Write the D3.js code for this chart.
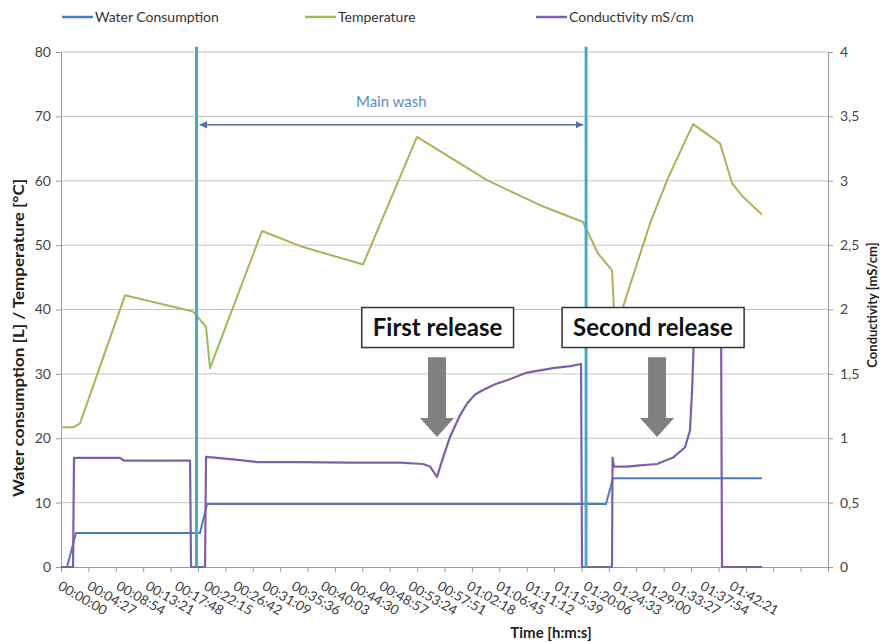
<!DOCTYPE html>
<html>
<head>
<meta charset="utf-8">
<script src="https://cdn.jsdelivr.net/npm/d3@7"></script>
<style>
  html, body { margin: 0; padding: 0; background: #fff; }
  svg { display: block; font-family: Lato, "Open Sans", sans-serif; }
</style>
</head>
<body>
<svg id="chart" width="880" height="642"></svg>
<script>
// Wash programme log: [elapsed seconds, value]
const waterConsumption = [
  [0, 0], [55, 0], [137, 5.3], [1244, 5.3], [1271, 5.3], [1335, 9.8],
  [4983, 9.8], [5047, 13.8], [6410, 13.8]
];
const temperature = [
  [0, 21.7], [110, 21.7], [174, 22.3], [585, 42.2], [1207, 39.7], [1326, 37.3],
  [1362, 30.9], [1838, 52.2], [2213, 49.7], [2762, 47.0], [3255, 66.8],
  [3895, 60.1], [4380, 56.2], [4773, 53.6], [4910, 48.7], [5038, 46.1],
  [5056, 40.0], [5075, 36.5], [5139, 40.4], [5386, 53.4], [5550, 60.4],
  [5779, 68.8], [6026, 65.8], [6136, 59.6], [6236, 57.5], [6410, 54.7]
];
const conductivity = [
  [0, 0], [110, 0], [119, 0.847], [540, 0.847], [576, 0.826], [1180, 0.826],
  [1189, 0], [1317, 0], [1326, 0.855], [1454, 0.845], [1637, 0.83], [1792, 0.815],
  [2185, 0.815], [2643, 0.81], [3100, 0.81], [3310, 0.80], [3374, 0.78],
  [3438, 0.70], [3493, 0.85], [3557, 1.01], [3649, 1.18], [3713, 1.27],
  [3786, 1.34], [3859, 1.375], [3969, 1.42], [4078, 1.45], [4261, 1.51],
  [4499, 1.545], [4654, 1.56], [4755, 1.577], [4764, 0], [5038, 0],
  [5043, 0.85], [5056, 0.78], [5175, 0.78], [5294, 0.79], [5450, 0.80],
  [5596, 0.85], [5706, 0.93], [5751, 1.06], [5770, 1.37], [5788, 1.80],
  [5843, 1.92], [6035, 1.95], [6044, 0], [6410, 0]
];

const leftTicks = [0, 10, 20, 30, 40, 50, 60, 70, 80];
const rightTicks = [0, 0.5, 1, 1.5, 2, 2.5, 3, 3.5, 4];
const timeLabels = [
  "00:00:00", "00:04:27", "00:08:54", "00:13:21", "00:17:48", "00:22:15",
  "00:26:42", "00:31:09", "00:35:36", "00:40:03", "00:44:30", "00:48:57",
  "00:53:24", "00:57:51", "01:02:18", "01:06:45", "01:11:12", "01:15:39",
  "01:20:06", "01:24:33", "01:29:00", "01:33:27", "01:37:54", "01:42:21"
];
const labelStepSeconds = 267;
const tickMarkCount = 28;
const timeEnd = 7013;

// Phase boundaries (seconds) and annotations
const phaseMarks = [1239, 4801];
const phaseLabel = "Main wash";
const releases = [
  { text: "First release",  boxTime: 3443, boxValue: 37.2, arrowTime: 3438 },
  { text: "Second release", boxTime: 5413, boxValue: 37.2, arrowTime: 5450 }
];

const seriesInfo = [
  { name: "Water Consumption",   color: "#4a7ebb" },
  { name: "Temperature",         color: "#9bbb59" },
  { name: "Conductivity mS/cm",  color: "#7d5fa6" }
];

const svg = d3.select("#chart");
const plot = { left: 61, right: 828, top: 52, bottom: 567 };

const x = d3.scaleLinear().domain([0, timeEnd]).range([plot.left, plot.right]);
const yL = d3.scaleLinear().domain([0, 80]).range([plot.bottom, plot.top]);
const yR = d3.scaleLinear().domain([0, 4]).range([plot.bottom, plot.top]);

// Horizontal gridlines
svg.append("g").selectAll("line").data(leftTicks.filter(d => d > 0)).join("line")
  .attr("x1", plot.left).attr("x2", plot.right)
  .attr("y1", d => yL(d)).attr("y2", d => yL(d))
  .attr("stroke", "#c4c4c4").attr("stroke-width", 1);

// Left axis
const axL = svg.append("g").attr("transform", `translate(${plot.left},0)`)
  .call(d3.axisLeft(yL).tickValues(leftTicks).tickSize(5).tickPadding(5));
axL.select(".domain").attr("stroke", "#9a9a9a");
axL.selectAll(".tick line").attr("stroke", "#9a9a9a");
axL.selectAll(".tick text").attr("font-size", 14).attr("fill", "#444").attr("font-family", "Lato");

// Right axis
const axR = svg.append("g").attr("transform", `translate(${plot.right},0)`)
  .call(d3.axisRight(yR).tickValues(rightTicks).tickSize(5).tickPadding(7)
    .tickFormat(d => String(d).replace(".", ",")));
axR.select(".domain").attr("stroke", "#9a9a9a");
axR.selectAll(".tick line").attr("stroke", "#9a9a9a");
axR.selectAll(".tick text").attr("font-size", 14).attr("fill", "#444").attr("font-family", "Lato");

// Bottom axis: line, tick marks, rotated time labels
const tickTimes = d3.range(tickMarkCount + 1).map(i => i * timeEnd / tickMarkCount);
const axB = svg.append("g").attr("transform", `translate(0,${plot.bottom})`)
  .call(d3.axisBottom(x).tickValues(tickTimes).tickSize(5).tickFormat(""));
axB.select(".domain").attr("stroke", "#9a9a9a");
axB.selectAll(".tick line").attr("stroke", "#9a9a9a");

svg.append("g").selectAll("text").data(timeLabels).join("text")
  .attr("transform", (d, i) => `translate(${x(i * labelStepSeconds) + 1},${plot.bottom + 13}) rotate(30)`)
  .attr("dy", "0.75em")
  .attr("font-size", 13.5).attr("fill", "#3a3a3a")
  .text(d => d);

// Axis titles
svg.append("text")
  .attr("transform", `translate(24,338) rotate(-90)`)
  .attr("text-anchor", "middle").attr("font-size", 15).attr("font-weight", "bold").attr("fill", "#222")
  .attr("textLength", 318).attr("lengthAdjust", "spacingAndGlyphs")
  .text("Water consumption [L] / Temperature [°C]");
svg.append("text")
  .attr("transform", `translate(877,305) rotate(-90)`)
  .attr("text-anchor", "middle").attr("font-size", 13).attr("font-weight", "bold").attr("fill", "#222")
  .text("Conductivity [mS/cm]");
svg.append("text")
  .attr("x", 551).attr("y", 638)
  .attr("text-anchor", "middle").attr("font-size", 15).attr("font-weight", "bold").attr("fill", "#222")
  .text("Time [h:m:s]");

// Series lines
const lineL = d3.line().x(d => x(d[0])).y(d => yL(d[1]));
const lineR = d3.line().x(d => x(d[0])).y(d => yR(d[1]));
svg.append("path").datum(waterConsumption).attr("d", lineL)
  .attr("fill", "none").attr("stroke", seriesInfo[0].color).attr("stroke-width", 2);
svg.append("path").datum(temperature).attr("d", lineL)
  .attr("fill", "none").attr("stroke", seriesInfo[1].color).attr("stroke-width", 2).attr("stroke-linejoin", "round");
svg.append("path").datum(conductivity).attr("d", lineR)
  .attr("fill", "none").attr("stroke", seriesInfo[2].color).attr("stroke-width", 2.2).attr("stroke-linejoin", "round");

// Phase boundary lines
svg.append("g").selectAll("line").data(phaseMarks).join("line")
  .attr("x1", d => x(d)).attr("x2", d => x(d))
  .attr("y1", yL(0)).attr("y2", yL(80.8))
  .attr("stroke", "#4aaac6").attr("stroke-width", 3);

// Main wash span arrow
const defs = svg.append("defs");
["start", "end"].forEach(k => {
  defs.append("marker").attr("id", "tri-" + k)
    .attr("viewBox", "0 0 10 10").attr("refX", 10).attr("refY", 5)
    .attr("markerWidth", 5).attr("markerHeight", 5)
    .attr("orient", k === "end" ? "auto" : "auto-start-reverse")
    .append("path").attr("d", "M0,0 L10,5 L0,10 Z").attr("fill", "#4d72a8");
});
const spanY = yL(68.7);
svg.append("line")
  .attr("x1", x(phaseMarks[0]) + 3).attr("x2", x(phaseMarks[1]) - 3)
  .attr("y1", spanY).attr("y2", spanY)
  .attr("stroke", "#4d72a8").attr("stroke-width", 1.5)
  .attr("marker-start", "url(#tri-start)").attr("marker-end", "url(#tri-end)");
svg.append("text")
  .attr("x", (x(phaseMarks[0]) + x(phaseMarks[1])) / 2).attr("y", yL(72.2))
  .attr("dy", "0.35em").attr("text-anchor", "middle")
  .attr("font-size", 15).attr("fill", "#5b8bcc")
  .text(phaseLabel);

// Release arrows (block arrows) and labelled boxes
const arrowTipY = yL(20.2), arrowTopY = yL(32.6);
releases.forEach(r => {
  const cx = x(r.arrowTime);
  const shaft = 9, head = 17, headLen = 19;
  const pts = [
    [cx - shaft, arrowTopY], [cx + shaft, arrowTopY], [cx + shaft, arrowTipY - headLen],
    [cx + head, arrowTipY - headLen], [cx, arrowTipY], [cx - head, arrowTipY - headLen],
    [cx - shaft, arrowTipY - headLen]
  ];
  svg.append("polygon").attr("points", pts.map(p => p.join(",")).join(" "))
    .attr("fill", "#808080");

  const g = svg.append("g");
  const t = g.append("text")
    .attr("x", x(r.boxTime)).attr("y", yL(r.boxValue))
    .attr("dy", "0.36em").attr("text-anchor", "middle")
    .attr("font-size", 24).attr("font-weight", "bold").attr("fill", "#111")
    .text(r.text);
  const bb = t.node().getBBox();
  g.insert("rect", "text")
    .attr("x", bb.x - 11).attr("y", yL(r.boxValue) - 20)
    .attr("width", bb.width + 22).attr("height", 40)
    .attr("fill", "#fff").attr("stroke", "#333").attr("stroke-width", 1.5);
});

// Legend
const legendX = [62, 305, 536];
const lg = svg.append("g").selectAll("g").data(seriesInfo).join("g")
  .attr("transform", (d, i) => `translate(${legendX[i]},17)`);
lg.append("line").attr("x1", 0).attr("x2", 31).attr("y1", 0).attr("y2", 0)
  .attr("stroke", d => d.color).attr("stroke-width", 2.5);
lg.append("text").attr("x", 33).attr("dy", "0.35em")
  .attr("font-size", 14).attr("fill", "#333")
  .text(d => d.name);
</script>
</body>
</html>
